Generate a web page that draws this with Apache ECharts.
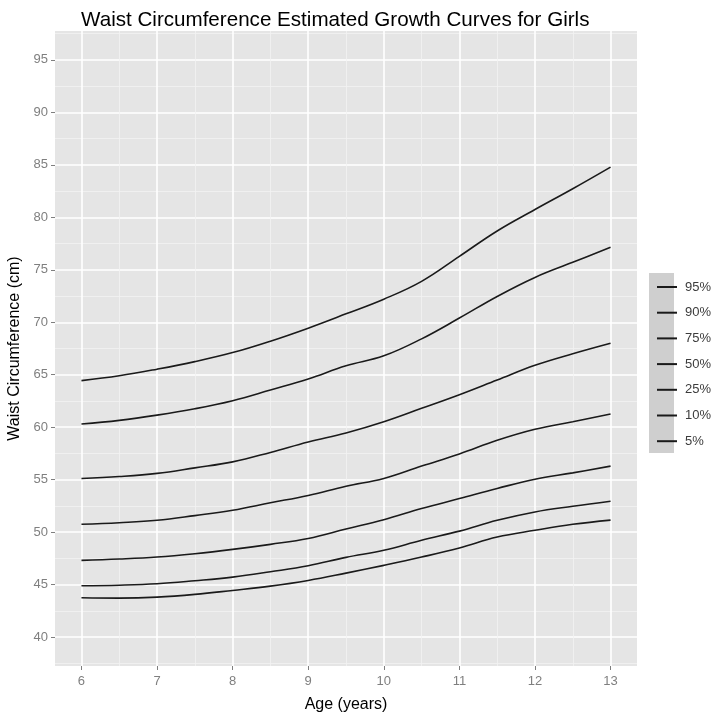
<!DOCTYPE html>
<html><head><meta charset="utf-8">
<script src="https://cdn.jsdelivr.net/npm/echarts@6/dist/echarts.min.js"></script>
<style>html,body{margin:0;padding:0;background:#fff}#c{width:725px;height:713px}</style>
</head><body><div id="c"></div>
<script>
const ages = [6,6.5,7,7.5,8,8.5,9,9.5,10,10.5,11,11.5,12,12.5,13];
const p95 = [64.44,64.9,65.53,66.25,67.11,68.2,69.44,70.8,72.2,73.9,76.28,78.7,80.74,82.72,84.78];
const p90 = [60.3,60.65,61.15,61.76,62.53,63.55,64.6,65.85,66.8,68.42,70.4,72.46,74.27,75.71,77.14];
const p75 = [55.12,55.3,55.6,56.13,56.7,57.6,58.6,59.45,60.52,61.8,63.1,64.5,65.9,67.0,68.0];
const p50 = [50.75,50.9,51.13,51.58,52.09,52.8,53.5,54.38,55.12,56.3,57.45,58.75,59.8,60.52,61.26];
const p25 = [47.31,47.44,47.63,47.95,48.36,48.84,49.4,50.3,51.19,52.25,53.2,54.16,55.05,55.65,56.29];
const p10 = [44.9,44.95,45.08,45.37,45.72,46.23,46.8,47.6,48.27,49.23,50.1,51.13,51.93,52.47,52.95];
const p05 = [43.75,43.72,43.81,44.07,44.45,44.86,45.4,46.1,46.84,47.63,48.5,49.54,50.18,50.75,51.15];
const seriesNames = ['95%','90%','75%','50%','25%','10%','5%'];
const seriesValues = [p95,p90,p75,p50,p25,p10,p05];
const xTicks = [6,7,8,9,10,11,12,13];
const xMinor = [6.5,7.5,8.5,9.5,10.5,11.5,12.5];
const yTicks = [40,45,50,55,60,65,70,75,80,85,90,95];
const yMinor = [37.5,42.5,47.5,52.5,57.5,62.5,67.5,72.5,77.5,82.5,87.5,92.5,97.5];

const FONT = 'Liberation Sans, Arial, Helvetica, sans-serif';
const chart = echarts.init(document.getElementById('c'), null, {renderer:'canvas'});

const series = seriesNames.map((n,i)=>({
  name:n, type:'line', xAxisIndex:0, yAxisIndex:0,
  data: ages.map((a,j)=>[a, seriesValues[i][j]]),
  showSymbol:false, symbol:'none', smooth:0.4,
  lineStyle:{color:'#1a1a1a', width:1.6}, itemStyle:{color:'#1a1a1a'},
  emphasis:{disabled:true}, z:5
}));

chart.setOption({
  animation:false,
  textStyle:{fontFamily:FONT},
  title:{text:'Waist Circumference Estimated Growth Curves for Girls', left:76, top:5,
    textStyle:{fontSize:20.6, fontWeight:'normal', color:'#000', fontFamily:FONT}},
  grid:{left:55, top:31, width:582, height:635, show:true, backgroundColor:'#e5e5e5', borderWidth:0,
    containLabel:false, outerBoundsMode:'none'},
  legend:{orient:'vertical', left:652, top:275, icon:'rect', itemWidth:20, itemHeight:2,
    itemGap:11.7, data:seriesNames,
    textStyle:{fontSize:13, color:'#3c3c3c', lineHeight:14, fontFamily:FONT, padding:[0,0,0,3]}},
  graphic:[{type:'rect', left:649, top:273, shape:{width:25, height:180}, style:{fill:'#cfcfcf'}, z:-1}],
  xAxis:[
    {type:'value', min:5.65, max:13.35, position:'bottom',
     axisLine:{show:false},
     axisTick:{show:true, customValues:xTicks, length:4, lineStyle:{color:'#7f7f7f', width:1}},
     axisLabel:{customValues:xTicks, color:'#7f7f7f', fontSize:13, margin:9, fontFamily:FONT},
     splitLine:{show:true, lineStyle:{color:'#ffffff', width:1.6}},
     name:'Age (years)', nameLocation:'middle', nameGap:31,
     nameTextStyle:{fontSize:16, color:'#000', fontFamily:FONT}},
    {type:'value', min:5.65, max:13.35, position:'bottom',
     axisLine:{show:false}, axisTick:{show:false, customValues:xMinor},
     axisLabel:{show:false, customValues:xMinor},
     splitLine:{show:true, lineStyle:{color:'#f2f2f2', width:0.8}}}
  ],
  yAxis:[
    {type:'value', min:37.25, max:97.75, position:'left',
     axisLine:{show:false},
     axisTick:{show:true, customValues:yTicks, length:4, lineStyle:{color:'#7f7f7f', width:1}},
     axisLabel:{customValues:yTicks, color:'#7f7f7f', fontSize:13, margin:7, fontFamily:FONT},
     splitLine:{show:true, lineStyle:{color:'#ffffff', width:1.6}},
     name:'Waist Circumference (cm)', nameLocation:'middle', nameGap:30, nameRotate:90,
     nameTextStyle:{fontSize:16, color:'#000', fontFamily:FONT}},
    {type:'value', min:37.25, max:97.75, position:'left',
     axisLine:{show:false}, axisTick:{show:false, customValues:yMinor},
     axisLabel:{show:false, customValues:yMinor},
     splitLine:{show:true, lineStyle:{color:'#f2f2f2', width:0.8}}}
  ],
  series: series
});
</script></body></html>
